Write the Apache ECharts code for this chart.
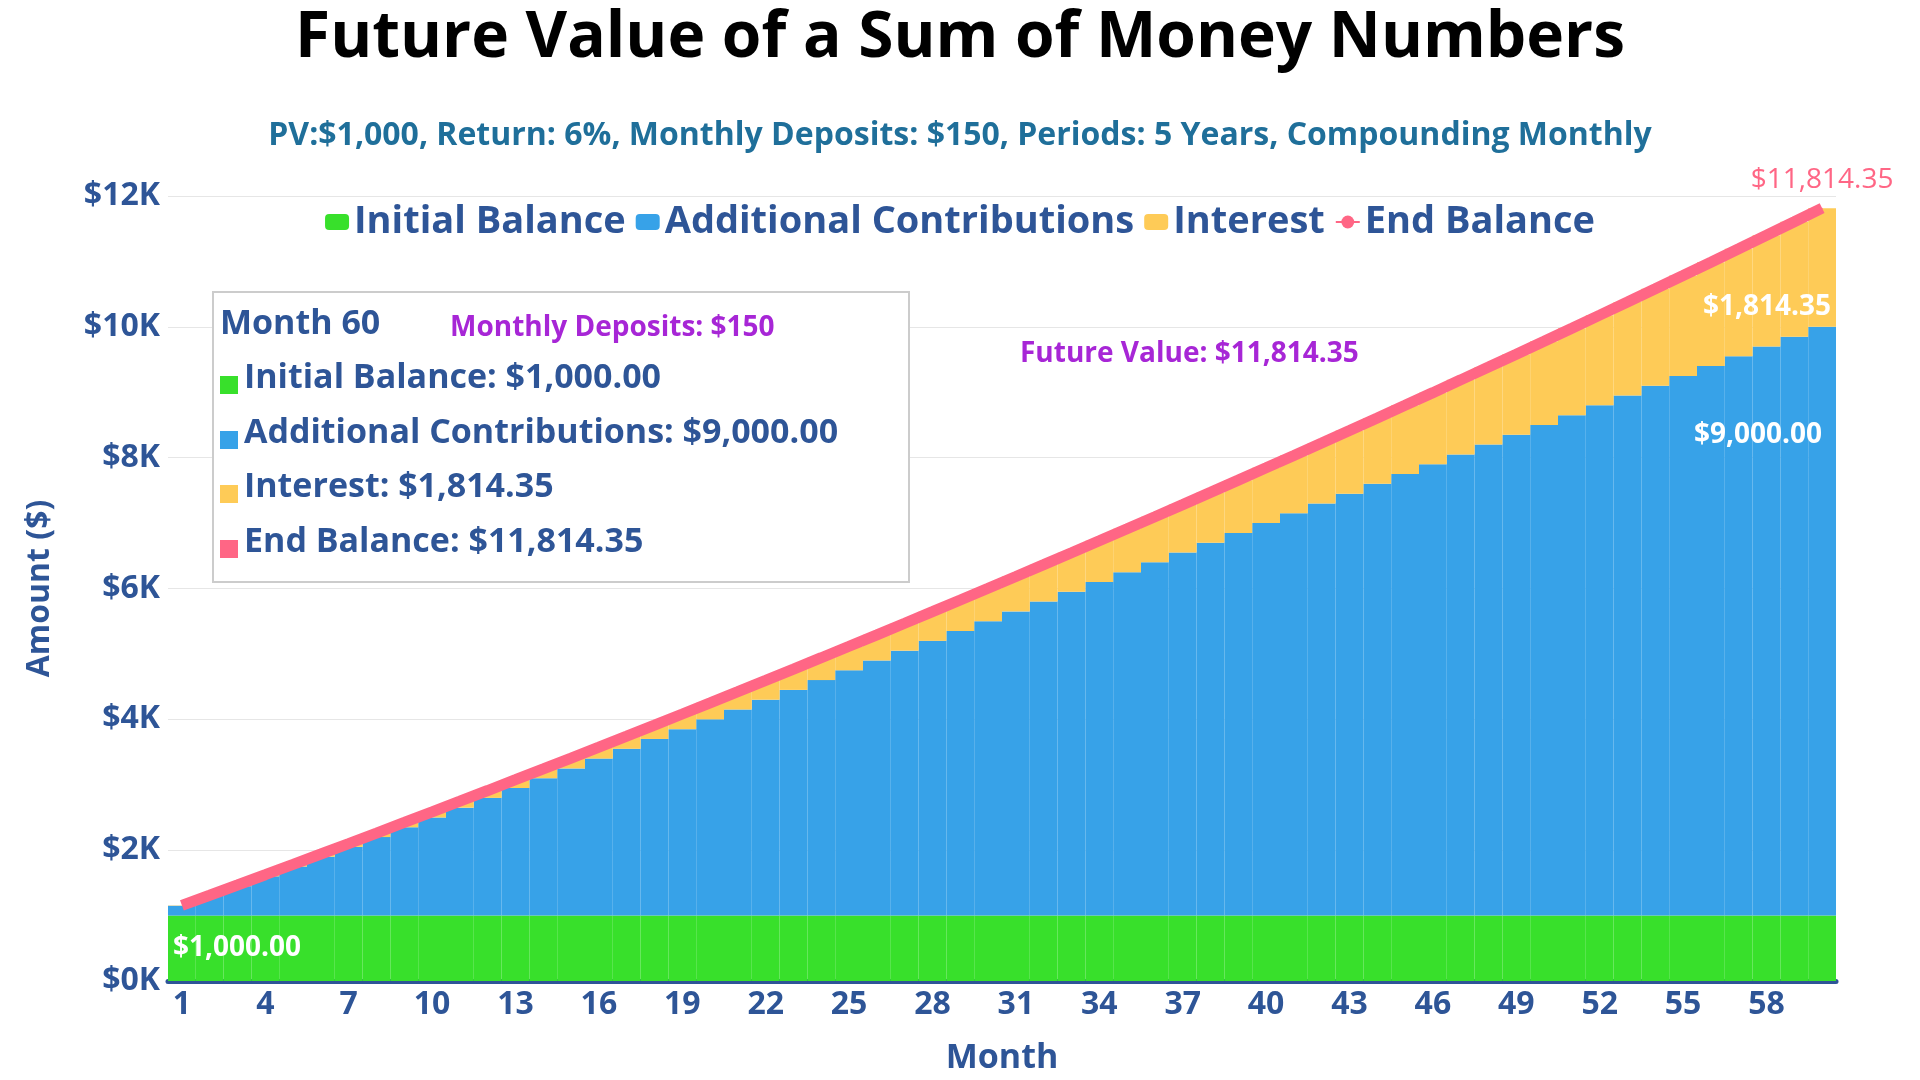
<!DOCTYPE html>
<html><head><meta charset="utf-8">
<script src="https://cdn.jsdelivr.net/npm/echarts@6/dist/echarts.min.js"></script>
<style>html,body{margin:0;padding:0;background:#fff}#c{width:1920px;height:1080px}</style>
</head><body><div id="c"></div>
<script>
const months = Array.from({length:60},(_,i)=>String(i+1));
const initialBalance = [1000,1000,1000,1000,1000,1000,1000,1000,1000,1000,1000,1000,1000,1000,1000,1000,1000,1000,1000,1000,1000,1000,1000,1000,1000,1000,1000,1000,1000,1000,1000,1000,1000,1000,1000,1000,1000,1000,1000,1000,1000,1000,1000,1000,1000,1000,1000,1000,1000,1000,1000,1000,1000,1000,1000,1000,1000,1000,1000,1000];
const contributions = [150,300,450,600,750,900,1050,1200,1350,1500,1650,1800,1950,2100,2250,2400,2550,2700,2850,3000,3150,3300,3450,3600,3750,3900,4050,4200,4350,4500,4650,4800,4950,5100,5250,5400,5550,5700,5850,6000,6150,6300,6450,6600,6750,6900,7050,7200,7350,7500,7650,7800,7950,8100,8250,8400,8550,8700,8850,9000];
const interest = [5.00,10.78,17.33,24.67,32.79,41.70,51.41,61.92,73.23,85.35,98.27,112.01,126.57,141.96,158.17,175.21,193.08,211.80,231.36,251.76,273.02,295.14,318.11,341.96,366.67,392.25,418.71,446.05,474.28,503.40,533.42,564.34,596.16,628.89,662.54,697.10,732.58,769.00,806.34,844.62,883.85,924.02,965.14,1007.21,1050.25,1094.25,1139.22,1185.17,1232.09,1280.00,1328.90,1378.80,1429.69,1481.59,1534.50,1588.42,1643.36,1699.33,1756.32,1814.35];
const endBalance = [1155.00,1310.78,1467.33,1624.67,1782.79,1941.70,2101.41,2261.92,2423.23,2585.35,2748.27,2912.01,3076.57,3241.96,3408.17,3575.21,3743.08,3911.80,4081.36,4251.76,4423.02,4595.14,4768.11,4941.96,5116.67,5292.25,5468.71,5646.05,5824.28,6003.40,6183.42,6364.34,6546.16,6728.89,6912.54,7097.10,7282.58,7469.00,7656.34,7844.62,8033.85,8224.02,8415.14,8607.21,8800.25,8994.25,9189.22,9385.17,9582.09,9780.00,9978.90,10178.80,10379.69,10581.59,10784.50,10988.42,11193.36,11399.33,11606.32,11814.35];
const yTicks = [0,2000,4000,6000,8000,10000,12000];

const F = '"Open Sans","Noto Sans",sans-serif';
const navy = '#2E5597';
const fmt = v => '$' + v.toLocaleString('en-US',{minimumFractionDigits:2,maximumFractionDigits:2});
const last = 59;
const chart = echarts.init(document.getElementById('c'));
chart.setOption({
  animation:false,
  textStyle:{fontFamily:F},
  title:[{text:'Future Value of a Sum of Money Numbers',left:'center',top:2,textStyle:{fontSize:64,fontWeight:'bold',color:'#000',fontFamily:F}},
         {text:'PV:$1,000, Return: 6%, Monthly Deposits: $150, Periods: 5 Years, Compounding Monthly',left:'center',top:115,textStyle:{fontSize:32,fontWeight:'bold',color:'#1F6F9A',fontFamily:F}}],
  legend:{top:198,left:'center',itemWidth:24,itemHeight:16,itemGap:10,textStyle:{fontSize:38,fontWeight:'bold',color:navy,fontFamily:F},
    data:['Initial Balance','Additional Contributions','Interest','End Balance']},
  grid:{left:168,right:84,top:196,bottom:98},
  xAxis:{type:'category',data:months,name:'Month',nameLocation:'middle',nameGap:60,
    nameTextStyle:{fontSize:34,fontWeight:'bold',color:navy},
    axisLine:{lineStyle:{color:navy,width:5}},axisTick:{show:false},
    axisLabel:{interval:2,fontSize:32,fontWeight:'bold',color:navy,margin:8}},
  yAxis:{type:'value',min:yTicks[0],max:yTicks[yTicks.length-1],interval:2000,name:'Amount ($)',nameLocation:'middle',nameGap:112,
    nameTextStyle:{fontSize:32,fontWeight:'bold',color:navy},
    axisLabel:{formatter:v=>'$'+(v/1000)+'K',fontSize:32,fontWeight:'bold',color:navy},
    splitLine:{lineStyle:{color:'#e6e6e6'}},axisLine:{show:false}},
  series:[
    {name:'Initial Balance',type:'bar',stack:'a',data:initialBalance,barCategoryGap:'0%',itemStyle:{color:'#38E02B'},
     label:{show:true,position:'insideLeft',fontSize:28,fontWeight:'bold',color:'#fff',formatter:p=>p.dataIndex===0?fmt(p.value):''}},
    {name:'Additional Contributions',type:'bar',stack:'a',data:contributions,itemStyle:{color:'#37A2E8'},
     label:{show:true,position:'insideTopRight',distance:14,fontSize:28,fontWeight:'bold',color:'#fff',offset:[0,80],formatter:p=>p.dataIndex===last?fmt(p.value):''}},
    {name:'Interest',type:'bar',stack:'a',data:interest,itemStyle:{color:'#FECB57'},
     label:{show:true,position:'insideRight',fontSize:28,fontWeight:'bold',color:'#fff',offset:[0,40],formatter:p=>p.dataIndex===last?fmt(p.value):''}},
    {name:'End Balance',type:'line',data:endBalance,symbol:'circle',symbolSize:1,showSymbol:false,
     lineStyle:{color:'#FF6685',width:11},itemStyle:{color:'#FF6685'},
     markPoint:{symbol:'circle',symbolSize:1,data:[{coord:[last,endBalance[last]],value:fmt(endBalance[last])}],
       label:{show:true,position:'top',distance:14,fontSize:28,color:'#FF6685',offset:[0,0],formatter:p=>p.value}}}
  ],
  graphic:[
    {type:'rect',left:212,top:291,shape:{width:696,height:290},style:{fill:'#fff',stroke:'#cccccc',lineWidth:2},z:100},
    {type:'text',left:220,top:307,style:{text:'Month 60',fontSize:34,fontWeight:'bold',fill:navy,fontFamily:F},z:101},
    {type:'text',left:450,top:314,style:{text:'Monthly Deposits: $150',fontSize:28,fontWeight:'bold',fill:'#A726D6',fontFamily:F},z:101},
    {type:'rect',left:220,top:376,shape:{width:18,height:18},style:{fill:'#38E02B'},z:101},
    {type:'text',left:244,top:361,style:{text:'Initial Balance: $1,000.00',fontSize:34,fontWeight:'bold',fill:navy,fontFamily:F},z:101},
    {type:'rect',left:220,top:431,shape:{width:18,height:18},style:{fill:'#37A2E8'},z:101},
    {type:'text',left:244,top:416,style:{text:'Additional Contributions: $9,000.00',fontSize:34,fontWeight:'bold',fill:navy,fontFamily:F},z:101},
    {type:'rect',left:220,top:485,shape:{width:18,height:18},style:{fill:'#FECB57'},z:101},
    {type:'text',left:244,top:470,style:{text:'Interest: $1,814.35',fontSize:34,fontWeight:'bold',fill:navy,fontFamily:F},z:101},
    {type:'rect',left:220,top:540,shape:{width:18,height:18},style:{fill:'#FF6685'},z:101},
    {type:'text',left:244,top:525,style:{text:'End Balance: $11,814.35',fontSize:34,fontWeight:'bold',fill:navy,fontFamily:F},z:101},
    {type:'text',left:1020,top:340,style:{text:'Future Value: $11,814.35',fontSize:28,fontWeight:'bold',fill:'#A726D6',fontFamily:F},z:101}
  ]
});
</script></body></html>
